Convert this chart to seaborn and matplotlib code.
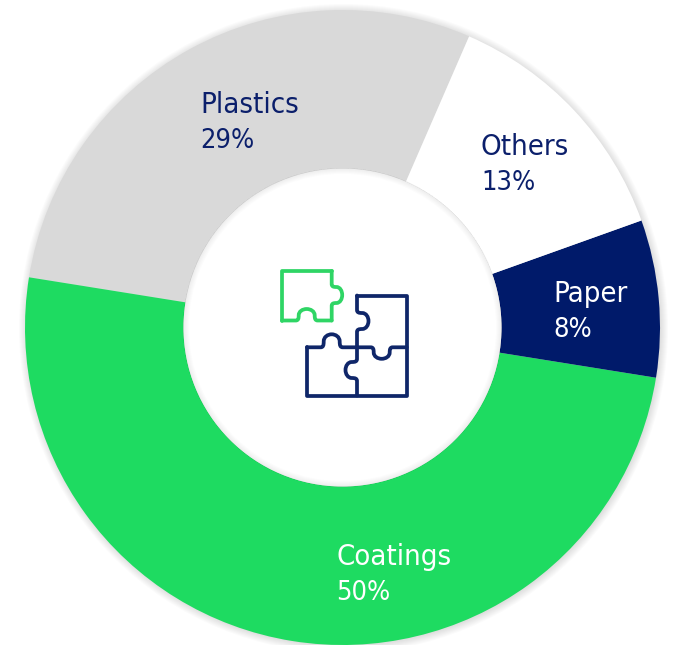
import matplotlib
matplotlib.use("Agg")
import matplotlib.pyplot as plt
import seaborn as sns
from matplotlib.patches import Circle, PathPatch, Wedge
from matplotlib.path import Path

# Market share by end use, listed anticlockwise starting from Plastics
categories = ["Plastics", "Coatings", "Paper", "Others"]
shares = [29, 50, 8, 13]
slice_colors = ["#D9D9D9", "#1EDB61", "#001A6A", "#FFFFFF"]
label_colors = ["#0B1F6B", "#FFFFFF", "#FFFFFF", "#0B1F6B"]
label_anchors = [(200, 113), (336, 565), (553, 302), (481, 155)]

WIDTH, HEIGHT = 674, 645
CX, CY = 342.5, HEIGHT - 327.5
R_OUTER, R_INNER = 317.5, 159.0
NAVY, GREEN = "#0F2669", "#2FD565"
ICON_LW = 2.7

sns.set_theme(style="white")
plt.rcParams["font.family"] = ["DejaVu Sans"]

fig = plt.figure(figsize=(WIDTH / 100, HEIGHT / 100), dpi=100, facecolor="white")
ax = fig.add_axes([0, 0, 1, 1])

# Soft halo outside the ring
for i in range(8):
    ax.add_patch(Circle((CX + 1, CY - 1), R_OUTER + 7 - i, fc="black", ec="none",
                        alpha=0.015, zorder=0))

ax.pie(shares, colors=sns.color_palette(slice_colors), startangle=66.5,
       center=(CX, CY), radius=R_OUTER,
       wedgeprops={"width": R_OUTER - R_INNER, "linewidth": 0})

# White hole with a soft shadow just inside its rim
ax.add_patch(Circle((CX, CY), R_INNER, fc="white", ec="none", zorder=2))
for i in range(6):
    ax.add_patch(Wedge((CX, CY), R_INNER + 0.5, 0, 360, width=6 - i, fc="black", ec="none",
                       alpha=0.012, zorder=3))

for name, share, color, (x, y) in zip(categories, shares, label_colors, label_anchors):
    ax.text(x, HEIGHT - y, name, color=color, fontsize=21, stretch="condensed",
            family="DejaVu Sans", va="baseline", ha="left", zorder=5)
    ax.text(x, HEIGHT - y - 35, f"{share}%", color=color, fontsize=19.5, stretch="condensed",
            family="DejaVu Sans", va="baseline", ha="left", zorder=5)


def stroke(verts, codes, color):
    flipped = [(x, HEIGHT - y) for x, y in verts]
    ax.add_patch(PathPatch(Path(flipped, codes), fc="none", ec=color, lw=ICON_LW,
                           capstyle="round", joinstyle="round", zorder=6))


def polyline(points, color):
    stroke(points, [Path.MOVETO] + [Path.LINETO] * (len(points) - 1), color)


def knob(fixed, span, centre, side, horizontal, color, depth=11.5):
    """Straight edge at `fixed` along [span] carrying a rounded knob at `centre`."""
    profile = [(-11, 0), (-8.5, 0), (-8, 0.15), (-8, 0.45), (-8, 0.8), (-4, 1), (0, 1),
               (4, 1), (8, 0.8), (8, 0.45), (8, 0.15), (8.5, 0), (11, 0)]
    along = [(span[0], 0)] + [(centre + a, b * depth * side) for a, b in profile] + [(span[1], 0)]
    codes = [Path.MOVETO, Path.LINETO] + [Path.CURVE4] * 12 + [Path.LINETO]
    if horizontal:
        verts = [(a, fixed + b) for a, b in along]
    else:
        verts = [(fixed + b, a) for a, b in along]
    stroke(verts, codes, color)


# Loose green puzzle piece
knob(331.7, (271, 320.5), 295, 1, False, GREEN, depth=10.5)
knob(320.5, (282, 331.7), 306.7, -1, True, GREEN)
polyline([(331.7, 271), (282, 271), (282, 320.5)], GREEN)

# Three assembled navy pieces
polyline([(357, 295.5), (406.7, 295.5), (406.7, 395.5), (307, 395.5), (307, 347.3)], NAVY)
knob(347.3, (307, 357), 331.7, -1, True, NAVY, depth=13)
knob(347.3, (357, 406.7), 381.7, 1, True, NAVY)
knob(357, (295.5, 347.3), 321, 1, False, NAVY)
knob(357, (347.3, 395.5), 370, -1, False, NAVY)

ax.set_xlim(0, WIDTH)
ax.set_ylim(0, HEIGHT)
ax.set_aspect("equal")
ax.axis("off")

fig.savefig("out.png", dpi=100, facecolor="white")
